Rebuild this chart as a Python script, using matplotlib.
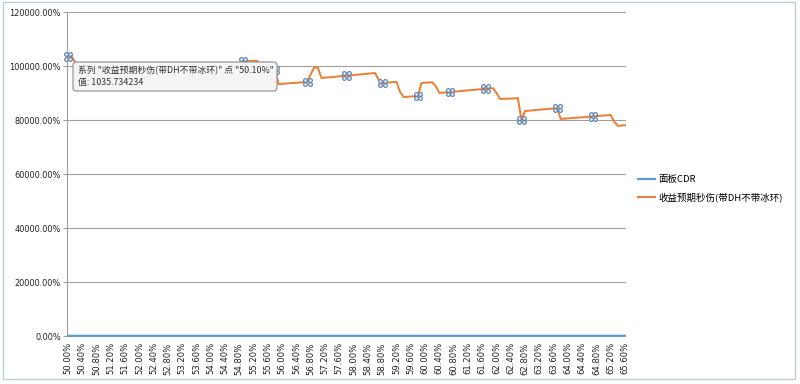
import numpy as np
import matplotlib
matplotlib.use('Agg')
import matplotlib.pyplot as plt
from matplotlib.patches import FancyBboxPatch, Rectangle
from matplotlib.transforms import IdentityTransform, offset_copy
from matplotlib.ticker import FuncFormatter

# x categories: 50.0% .. 65.6% in 0.1% steps, panel CDR is the category itself
cdr = np.round(np.arange(500, 657) / 1000, 3)
cat_labels = [f"{v * 100:.2f}%" for v in cdr]

# 收益预期秒伤 (raw values, axis shows them as %)
dps = [1035.7, 1035.73, 1014.0, 992.0, 993.0, 994.0, 995.0, 996.0, 997.0, 998.0,
       999.0, 975.0, 976.0, 977.0, 978.0, 979.0, 980.0, 981.0, 982.0, 983.0,
       984.0, 985.0, 962.0, 963.0, 964.0, 965.0, 966.0, 967.0, 993.0, 994.0,
       995.0, 996.0, 997.0, 998.0, 999.0, 1000.0, 978.0, 979.0, 980.0, 981.0,
       982.0, 983.0, 984.0, 985.0, 986.0, 1003.0, 1004.0, 1005.0, 1006.0, 1018.5,
       1018.5, 1019.0, 1019.0, 1019.0, 990.0, 988.0, 987.0, 986.0, 985.0, 933.0,
       934.0, 935.0, 936.0, 937.0, 938.0, 939.0, 940.0, 941.0, 970.0, 996.0,
       992.5, 955.5, 957.0, 958.0, 959.0, 960.5, 962.0, 963.0, 964.0, 965.0,
       966.5, 968.0, 969.0, 970.5, 971.5, 973.0, 973.5, 950.0, 937.0, 938.0,
       939.0, 940.0, 941.0, 904.0, 885.0, 886.0, 887.0, 888.0, 889.0, 937.0,
       938.0, 939.0, 940.0, 925.0, 900.0, 901.0, 902.5, 903.5, 905.0, 906.0,
       907.0, 908.5, 909.5, 911.0, 912.0, 913.5, 914.5, 915.5, 917.0, 918.0,
       900.0, 878.0, 878.5, 879.0, 879.5, 880.0, 881.0, 800.0, 833.0, 834.5,
       835.5, 837.0, 838.0, 839.5, 840.5, 841.5, 843.0, 844.0, 804.0, 805.0,
       806.0, 807.0, 808.0, 809.0, 810.0, 811.0, 812.0, 813.5, 814.5, 815.5,
       816.5, 817.5, 818.5, 794.0, 778.0, 779.5, 781.0]

# points that show Excel's selection handles
handle_idx = [0, 49, 58, 67, 78, 88, 98, 107, 117, 127, 137, 147]

series_names = ['面板CDR', '收益预期秒伤(带DH不带冰环)']
tip_line1 = '系列 "收益预期秒伤(带DH不带冰环)" 点 "50.10%"'
tip_line2 = '值: 1035.734234'

cjk = ['Noto Sans CJK SC', 'DejaVu Sans']
blue = '#5b9bd5'
orange = '#ed7d31'

fig = plt.figure(figsize=(8, 3.84), dpi=100)
ax = fig.add_axes([67 / 800, 48 / 384, 559 / 800, 324 / 384])

x = np.arange(len(dps))
l1, = ax.plot(x, cdr, color=blue, lw=1.6, clip_on=False, zorder=3)
l2, = ax.plot(x, dps, color=orange, lw=1.4, zorder=3, solid_joinstyle='miter')

# selection handles: 2x2 little circles around each point
for dx, dy in [(-1.7, -1.7), (1.7, -1.7), (-1.7, 1.7), (1.7, 1.7)]:
    tr = offset_copy(ax.transData, fig=fig, x=dx, y=dy, units='points')
    ax.plot(x[handle_idx], np.array(dps)[handle_idx], 'o', ms=2.7, mfc='#e4ecf5',
            mec='#5a7fa8', mew=0.8, transform=tr, zorder=4, clip_on=False)

ax.set_xlim(-0.28, 156.28)
ax.set_ylim(0, 1200)
ax.set_yticks(np.arange(0, 1201, 200))
ax.yaxis.set_major_formatter(FuncFormatter(lambda v, p: f"{v * 100:.2f}%"))
ax.set_xticks(x[::4])
ax.set_xticklabels(cat_labels[::4], rotation=90, va='top', ha='center')

ax.grid(axis='y', color='#a0a0a0', lw=0.8)
ax.set_axisbelow(True)
for s in ['top', 'right', 'bottom']:
    ax.spines[s].set_visible(False)
ax.spines['left'].set_color('#a0a0a0')
ax.spines['left'].set_linewidth(0.8)
ax.tick_params(axis='y', length=3, width=0.8, color='#a0a0a0', pad=1.5,
               labelsize=5.9, labelcolor='#222222')
ax.tick_params(axis='x', length=0, pad=4.5, labelsize=6.1, labelcolor='#222222')

leg = fig.legend([l1, l2], series_names, loc='center left',
                 bbox_to_anchor=(638 / 800, 1 - 189 / 384), frameon=False,
                 prop={'family': cjk, 'size': 6.8}, handlelength=1.8,
                 handletextpad=0.35, labelspacing=0.9, borderpad=0, borderaxespad=0)

# hover tooltip
tip = FancyBboxPatch((73, 384 - 91), 204, 29, boxstyle='round,pad=0,rounding_size=3',
                     transform=IdentityTransform(), facecolor='#f4f4f4',
                     edgecolor='#8c8c8c', lw=0.8, zorder=10)
fig.add_artist(tip)
fig.text(78 / 800, 1 - 71 / 384, tip_line1, family=cjk, fontsize=6.4,
         color='#333333', va='center', ha='left', zorder=11)
fig.text(78 / 800, 1 - 83 / 384, tip_line2, family=cjk, fontsize=6.4,
         color='#333333', va='center', ha='left', zorder=11)

# chart area frame
frame = Rectangle((3, 384 - 379), 792, 377, transform=IdentityTransform(),
                  fill=False, edgecolor='#b9cfdb', lw=1.0, zorder=12)
fig.add_artist(frame)

fig.savefig('out.png', dpi=100, facecolor='white')
